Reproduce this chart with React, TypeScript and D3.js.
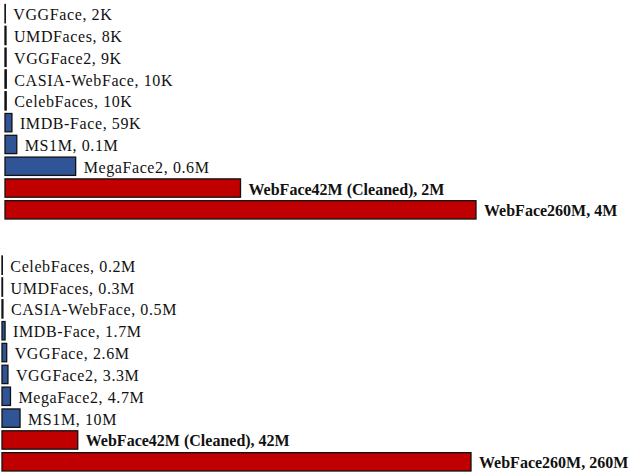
import * as d3 from "d3";

// top panel: number of identities
const idNames = [
  "VGGFace", "UMDFaces", "VGGFace2", "CASIA-WebFace", "CelebFaces",
  "IMDB-Face", "MS1M", "MegaFace2", "WebFace42M (Cleaned)", "WebFace260M",
];
const idValues = [0.0026, 0.0083, 0.0091, 0.0105, 0.01, 0.059, 0.1, 0.6, 2, 4];
const idLabels = ["2K", "8K", "9K", "10K", "10K", "59K", "0.1M", "0.6M", "2M", "4M"];
const idGroups = ["other", "other", "other", "other", "other", "mid", "mid", "mid", "ours", "ours"];

// bottom panel: number of images
const imgNames = [
  "CelebFaces", "UMDFaces", "CASIA-WebFace", "IMDB-Face", "VGGFace",
  "VGGFace2", "MegaFace2", "MS1M", "WebFace42M (Cleaned)", "WebFace260M",
];
const imgValues = [0.2, 0.3, 0.5, 1.7, 2.6, 3.3, 4.7, 10, 42, 260];
const imgLabels = ["0.2M", "0.3M", "0.5M", "1.7M", "2.6M", "3.3M", "4.7M", "10M", "42M", "260M"];
const imgGroups = ["other", "other", "other", "mid", "mid", "mid", "mid", "mid", "ours", "ours"];

const COLORS: Record<string, string> = { other: "#2F5597", mid: "#2F5597", ours: "#C00000" };
const FONT = "'Liberation Serif', 'Times New Roman', serif";

type PanelProps = {
  names: string[];
  values: number[];
  labels: string[];
  groups: string[];
  x0: number;
  x1: number;
  y0: number;
  y1: number;
  max: number;
};

const Panel = ({ names, values, labels, groups, x0, x1, y0, y1, max }: PanelProps) => {
  const xScale = d3.scaleLinear().domain([0, max]).range([x0, x1]);
  const yScale = d3
    .scaleBand<number>()
    .domain(d3.range(names.length))
    .range([y0, y1])
    .paddingInner(0.16);

  return (
    <g>
      {names.map((name, i) => {
        const y = yScale(i) as number;
        const h = yScale.bandwidth();
        const w = xScale(values[i]) - xScale(0);
        const bold = groups[i] === "ours";
        return (
          <g key={i}>
            <rect
              x={xScale(0)}
              y={y}
              width={w}
              height={h}
              fill={COLORS[groups[i]]}
              stroke="#111"
              strokeWidth={1.3}
            />
            <text
              x={xScale(values[i]) + 8}
              y={y + h / 2 + 1}
              dominantBaseline="central"
              fontFamily={FONT}
              fontSize={16}
              letterSpacing={bold ? 0 : 0.6}
              fontWeight={bold ? "bold" : "normal"}
              fill="#111"
            >
              {name}, {labels[i]}
            </text>
          </g>
        );
      })}
    </g>
  );
};

export default function App() {
  return (
    <svg
      width={632}
      height={472}
      style={{ position: "absolute", left: 0, top: 0, background: "#fff" }}
    >
      <Panel
        names={idNames}
        values={idValues}
        labels={idLabels}
        groups={idGroups}
        x0={5}
        x1={476}
        y0={4.5}
        y1={219}
        max={4}
      />
      <Panel
        names={imgNames}
        values={imgValues}
        labels={imgLabels}
        groups={imgGroups}
        x0={2}
        x1={471}
        y0={256}
        y1={471}
        max={260}
      />
    </svg>
  );
}
